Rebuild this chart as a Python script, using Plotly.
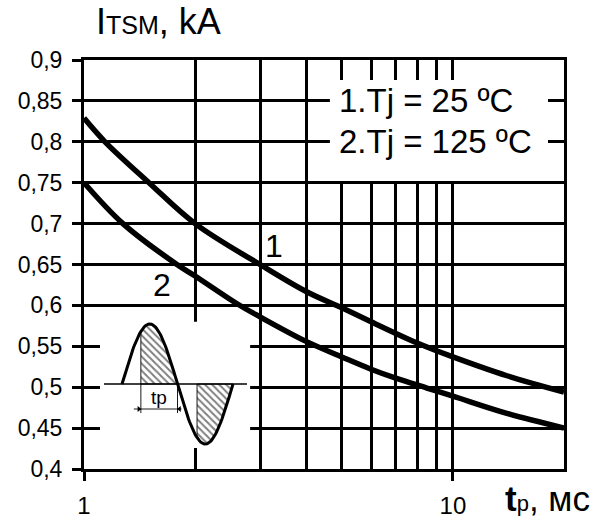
import numpy as np
import plotly.graph_objects as go

# ---- data ----
tp_1 = [1.0, 1.14, 1.5, 2.0, 3.0, 4.0, 5.0, 6.0, 8.0, 10.0, 14.0, 20.0]
itsm_1 = [0.829, 0.80, 0.75, 0.70, 0.650, 0.617, 0.597, 0.580, 0.554, 0.537, 0.514, 0.494]

tp_2 = [1.0, 1.275, 1.786, 2.0, 2.6, 3.0, 4.0, 5.0, 6.0, 7.0, 8.5, 10.0, 14.0, 20.0]
itsm_2 = [0.750, 0.700, 0.650, 0.636, 0.602, 0.586, 0.556, 0.537, 0.522, 0.511, 0.499, 0.489, 0.468, 0.450]

y_tickvals = [0.4, 0.45, 0.5, 0.55, 0.6, 0.65, 0.7, 0.75, 0.8, 0.85, 0.9]
y_ticktext = ["0,4", "0,45", "0,5", "0,55", "0,6", "0,65", "0,7", "0,75", "0,8", "0,85", "0,9"]
x_tickvals = [1, 10]
x_ticktext = ["1", "10"]
x_minor = [2, 3, 4, 5, 6, 7, 8, 9, 20]

legend_lines = ["1.Tj = 25 ºC", "2.Tj = 125 ºC"]
curve_labels = ["1", "2"]

FONT = "Liberation Sans, Arial, sans-serif"
BLACK = "black"

fig = go.Figure()

for xs, ys in ((tp_1, itsm_1), (tp_2, itsm_2)):
    fig.add_trace(go.Scatter(x=xs, y=ys, mode="lines",
                             line=dict(color=BLACK, width=5.5, shape="spline", smoothing=1.0),
                             showlegend=False, hoverinfo="skip"))

# ---- inset schematic (pulse waveform) on its own small axes ----
x0, per, base, amp = 122.0, 111.0, 384.0, 60.0
s = np.linspace(0, 1, 121)
wx = x0 + per * s
wy = base - amp * np.sin(2 * np.pi * s)

def region(s0, s1):
    ss = np.linspace(s0, s1, 40)
    px = list(x0 + per * ss)
    py = list(base - amp * np.sin(2 * np.pi * ss))
    return px + [px[-1], px[0], px[0]], py + [base, base, py[0]]

for s0, s1 in ((0.17, 0.5), (0.676, 1.0)):
    hx, hy = region(s0, s1)
    fig.add_trace(go.Scatter(x=hx, y=hy, mode="lines", fill="toself",
                             fillcolor="white", line=dict(width=0.9, color=BLACK),
                             fillpattern=dict(shape="\\", fgcolor=BLACK, bgcolor="white",
                                              size=5, solidity=0.4),
                             xaxis="x2", yaxis="y2", showlegend=False, hoverinfo="skip"))

fig.add_trace(go.Scatter(x=[104, 247], y=[base, base], mode="lines",
                         line=dict(color=BLACK, width=1.3),
                         xaxis="x2", yaxis="y2", showlegend=False, hoverinfo="skip"))
fig.add_trace(go.Scatter(x=wx, y=wy, mode="lines", line=dict(color=BLACK, width=3),
                         xaxis="x2", yaxis="y2", showlegend=False, hoverinfo="skip"))
tx0 = x0 + per * 0.17
tx1 = x0 + per * 0.5
for tx in (tx0, tx1):
    fig.add_trace(go.Scatter(x=[tx, tx], y=[base, 413], mode="lines",
                             line=dict(color=BLACK, width=0.9),
                             xaxis="x2", yaxis="y2", showlegend=False, hoverinfo="skip"))
fig.add_trace(go.Scatter(x=[tx0 - 7, tx1 + 4], y=[409, 409], mode="lines",
                         line=dict(color=BLACK, width=0.9),
                         xaxis="x2", yaxis="y2", showlegend=False, hoverinfo="skip"))
fig.add_trace(go.Scatter(x=[tx0 - 2, tx1 + 2], y=[409, 409], mode="markers",
                         marker=dict(symbol=["triangle-right", "triangle-left"], size=5,
                                     color=BLACK),
                         xaxis="x2", yaxis="y2", showlegend=False, hoverinfo="skip"))

# ---- layout ----
L, R, T, B = 84, 39, 60, 51
W, H = 603, 520
pw, ph = W - L - R, H - T - B

def px2paper(px, py):
    return (px - L) / pw, (H - B - py) / ph

ix0, iy0 = px2paper(100, 448)
ix1, iy1 = px2paper(250, 322)

fig.update_layout(
    width=W, height=H,
    margin=dict(l=L, r=R, t=T, b=B),
    paper_bgcolor="white", plot_bgcolor="white",
    font=dict(family=FONT, color=BLACK, size=22),
    xaxis=dict(type="log", range=[0, np.log10(20)], automargin=False,
               tickvals=x_tickvals, ticktext=x_ticktext,
               ticks="outside", ticklen=9, tickwidth=3, tickcolor=BLACK,
               tickfont=dict(size=24), ticklabelstandoff=4,
               showgrid=True, gridcolor=BLACK, gridwidth=2.6,
               minor=dict(tickvals=x_minor, showgrid=True, gridcolor=BLACK,
                          gridwidth=2.6, ticks=""),
               showline=True, linecolor=BLACK, linewidth=3, mirror=True,
               zeroline=False),
    yaxis=dict(range=[0.4, 0.9], tickvals=y_tickvals, ticktext=y_ticktext,
               automargin=False,
               ticks="outside", ticklen=9, tickwidth=3, tickcolor=BLACK,
               tickfont=dict(size=23), ticklabelstandoff=5,
               showgrid=True, gridcolor=BLACK, gridwidth=2.6,
               showline=True, linecolor=BLACK, linewidth=3, mirror=True,
               zeroline=False),
    xaxis2=dict(domain=[ix0, ix1], range=[100, 250], anchor="y2",
                visible=False, fixedrange=True, automargin=False),
    yaxis2=dict(domain=[iy0, iy1], range=[448, 322], anchor="x2",
                visible=False, fixedrange=True, automargin=False),
)

# white boxes hiding the grid behind the inset and the legend text
fig.add_shape(type="rect", xref="x", yref="y", x0=1.105, x1=2.82, y0=0.4257, y1=0.58,
              fillcolor="white", line=dict(width=0), layer="between")
fig.add_shape(type="rect", xref="x", yref="y", x0=4.64, x1=18.1, y0=0.752, y1=0.8756,
              fillcolor="white", line=dict(width=0), layer="between")

# legend-like text
for txt, yv in zip(legend_lines, [0.85, 0.80]):
    fig.add_annotation(x=np.log10(4.85), y=yv, xref="x", yref="y", text=txt,
                       showarrow=False, xanchor="left", yanchor="middle",
                       font=dict(size=33))

# curve labels
fig.add_annotation(x=np.log10(3.27), y=0.673, text=curve_labels[0], showarrow=False,
                   font=dict(size=32), xanchor="center", yanchor="middle")
fig.add_annotation(x=np.log10(1.627), y=0.625, text=curve_labels[1], showarrow=False,
                   font=dict(size=32), xanchor="center", yanchor="middle")

# inset label
fig.add_annotation(x=159, y=397, xref="x2", yref="y2", text="tp", showarrow=False,
                   font=dict(size=19), xanchor="center", yanchor="middle")

# axis titles
ax, ay = px2paper(94, 22)
fig.add_annotation(x=ax, y=ay, xref="paper", yref="paper",
                   text="I<span style='font-size:25px'>TSM</span>, kA",
                   showarrow=False, xanchor="left", yanchor="middle",
                   font=dict(size=36))
bx, by = px2paper(503, 498)
fig.add_annotation(x=bx, y=by, xref="paper", yref="paper",
                   text="<b>t</b><span style='font-size:22px'>p</span>, мс",
                   showarrow=False, xanchor="left", yanchor="middle",
                   font=dict(size=35))

fig.write_html("out.html")
